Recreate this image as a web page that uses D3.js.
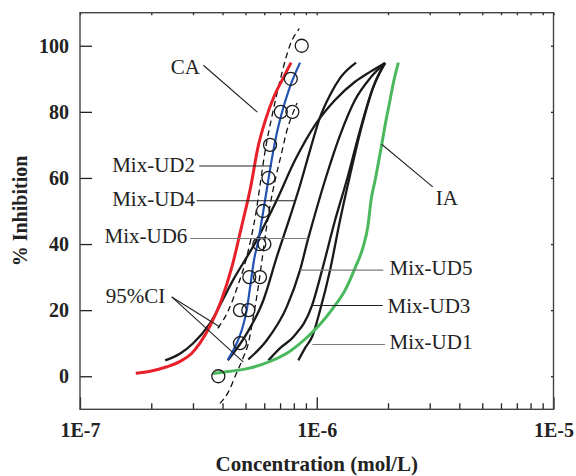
<!DOCTYPE html>
<html><head><meta charset="utf-8">
<script src="https://cdn.jsdelivr.net/npm/d3@7"></script>
<style>body{margin:0;background:#fff}</style>
</head><body>
<svg id="chart" width="576" height="476"></svg>
<script>
// ---------------- data ----------------
const xMajorTicks = [1e-7, 1e-6, 1e-5];
const xTickLabels = ["1E-7", "1E-6", "1E-5"];
const yTicks = [0, 20, 40, 60, 80, 100];

// CA (concentration addition) prediction - red
const caConc = [1.72e-7,1.98e-7,2.31e-7,2.65e-7,2.96e-7,3.21e-7,3.54e-7,3.94e-7,4.39e-7,4.81e-7,5.26e-7,5.65e-7,6.07e-7,6.64e-7,7.14e-7,7.79e-7];
const caInh  = [0.9,1.5,2.8,4.5,6.9,10.0,15.2,22.7,33.3,45.2,57.3,69.4,77.5,85.1,89.6,94.9];

// IA (independent action) prediction - green
const iaConc = [3.65e-7,4.30e-7,5.08e-7,6.35e-7,7.71e-7,9.01e-7,1.033e-6,1.172e-6,1.317e-6,1.451e-6,1.569e-6,1.647e-6,1.696e-6,1.764e-6,1.882e-6,1.962e-6,2.040e-6,2.121e-6,2.212e-6];
const iaInh  = [0.8,1.5,2.3,4.5,7.6,11.5,15.7,20.6,26.0,32.7,39.1,45.7,53.3,59.3,70.2,77.5,83.6,89.7,94.9];

// Mix-UD2 fitted curve - blue
const ud2FitConc = [4.21e-7,4.52e-7,4.82e-7,5.06e-7,5.23e-7,5.43e-7,5.67e-7,5.86e-7,6.05e-7,6.45e-7,6.78e-7,7.11e-7,7.71e-7,8.50e-7];
const ud2FitInh  = [5.0,8.9,13.9,20,27,35.1,41.2,47.2,53.3,65.4,73.5,79.5,87.6,94.9];

// Mix-UD2 observed points - open circles
const ud2ObsConc = [3.84e-7,4.74e-7,4.74e-7,5.14e-7,5.19e-7,5.76e-7,5.72e-7,6.01e-7,5.93e-7,6.25e-7,6.35e-7,7.05e-7,7.89e-7,7.77e-7,8.64e-7];
const ud2ObsInh  = [0,10,20,20,30,30,40,40,50,60,70,80,80,90,100];

// 95% confidence interval of Mix-UD2 - dashed
const ciLeftConc  = [3.82e-7,4.22e-7,4.65e-7,4.98e-7,5.28e-7,5.54e-7,5.76e-7,6.05e-7,6.47e-7,7.07e-7,7.71e-7,8.44e-7];
const ciLeftInh   = [14.5,19.7,27.6,34.2,41.8,49.6,57.8,68.1,78.7,90.8,100.2,105.2];
const ciRightConc = [3.90e-7,4.23e-7,4.56e-7,4.90e-7,5.14e-7,5.38e-7,5.65e-7,5.87e-7,6.11e-7,6.35e-7,6.67e-7,7.07e-7,7.49e-7,7.87e-7,8.26e-7];
const ciRightInh  = [-8.2,-4.8,0.6,5.8,9.9,17.5,26.6,35.1,44.2,51.7,59.3,66.9,74.5,79.0,82.7];

// other mixtures - black fitted curves
const ud6Conc = [2.29e-7,2.65e-7,3.00e-7,3.54e-7,4.43e-7,5.58e-7,6.78e-7,8.10e-7,9.83e-7,1.195e-6,1.451e-6,1.680e-6,1.944e-6];
const ud6Inh  = [4.8,6.9,9.9,16.0,29.1,41.2,53.3,65.4,76.0,83.6,89.1,92.1,94.8];
const ud4Conc = [4.21e-7,5.06e-7,5.95e-7,6.78e-7,7.71e-7,8.50e-7,9.37e-7,1.033e-6,1.138e-6,1.254e-6,1.466e-6];
const ud4Inh  = [4.8,12.9,23.0,36.1,48.2,57.8,68.4,78.4,85.1,90.2,94.9];
const ud5Conc = [5.14e-7,6.15e-7,7.47e-7,8.50e-7,9.21e-7,9.67e-7,1.084e-6,1.254e-6,1.451e-6,1.680e-6,1.944e-6];
const ud5Inh  = [5.1,10.9,21.0,32.1,41.8,47.2,59.3,72.9,83.6,90.2,94.8];
const ud3Conc = [6.25e-7,7.00e-7,7.96e-7,9.53e-7,1.053e-6,1.195e-6,1.339e-6,1.524e-6,1.713e-6,1.944e-6];
const ud3Inh  = [4.8,8.5,11.9,21.2,32.1,47.2,59.3,74.5,86.6,94.8];
const ud1Conc = [8.36e-7,8.92e-7,9.58e-7,1.033e-6,1.138e-6,1.254e-6,1.383e-6,1.554e-6,1.746e-6,1.944e-6];
const ud1Inh  = [4.8,8.5,12.1,20.0,32.1,47.2,60.9,76.0,88.1,94.8];

// annotations: text and anchor in data units
const labelText   = ["CA","IA","Mix-UD2","Mix-UD4","Mix-UD6","95%CI","Mix-UD5","Mix-UD3","Mix-UD1"];
const labelConc   = [2.42e-7,3.18e-6,3.06e-7,3.06e-7,2.84e-7,2.29e-7,2.03e-6,1.99e-6,2.03e-6];
const labelInh    = [91.6,51.8,61.8,51.5,40.3,22.1,30.6,19.1,8.2];
const labelAnchor = ["start","start","end","end","end","end","start","start","start"];
// leader lines [conc1, inh1, conc2, inh2]
const leaderLines = [
  [3.32e-7,94.1,5.61e-7,79.9],
  [1.88e-6,70.2,3.09e-6,57.3],
  [3.19e-7,63.6,6.45e-7,63.6],
  [3.11e-7,53.1,8.10e-7,53.1],
  [2.92e-7,41.7,9.21e-7,41.7],
  [2.44e-7,24.0,3.90e-7,14.9],
  [2.44e-7,24.0,4.90e-7,4.3],
  [8.50e-7,32.1,1.91e-6,32.1],
  [9.53e-7,21.4,1.90e-6,21.4],
  [9.58e-7,9.6,1.94e-6,9.6]
];
const leaderGray = [false,false,false,false,true,false,false,true,false,true];

// ---------------- drawing ----------------
const FONT = "'Liberation Serif','Times New Roman',Times,serif";
const svg = d3.select("#chart");
const x = d3.scaleLog().domain([1e-7, 1e-5]).range([80, 553.5]);
const y = d3.scaleLinear().domain([-10, 110]).range([409.3, 12.7]);
const [x0, x1] = x.range(), [y0, y1] = y.range();

svg.append("defs").append("clipPath").attr("id","clip")
  .append("rect").attr("x",x0).attr("y",y1).attr("width",x1-x0).attr("height",y0-y1);

const minorTicks = [];
for (let d = -7; d < -5; d++) for (let m = 2; m <= 9; m++) minorTicks.push(m * Math.pow(10, d));

function styleAxis(g){
  g.select(".domain").remove();
  g.selectAll(".tick line").attr("stroke","#222").attr("stroke-width",1.3);
  g.selectAll("text").attr("font-family",FONT).attr("font-size",20).attr("font-weight","bold").attr("fill","#222");
}
// bottom axis
svg.append("g").attr("transform",`translate(0,${y0})`)
  .call(d3.axisBottom(x).tickValues(xMajorTicks).tickSize(-12).tickPadding(13.5).tickFormat((d,i)=>xTickLabels[i]))
  .call(styleAxis);
svg.append("g").attr("transform",`translate(0,${y0})`)
  .call(d3.axisBottom(x).tickValues(minorTicks).tickSize(-6).tickFormat(""))
  .call(styleAxis);
// top axis (small ticks)
svg.append("g").attr("transform",`translate(0,${y1})`)
  .call(d3.axisTop(x).tickValues(xMajorTicks.concat(minorTicks)).tickSize(-2.5).tickFormat(""))
  .call(styleAxis);
// left axis
svg.append("g").attr("transform",`translate(${x0},0)`)
  .call(d3.axisLeft(y).tickValues(yTicks).tickSize(-12).tickPadding(11).tickFormat(d3.format("d")))
  .call(styleAxis);
// right axis (small ticks)
svg.append("g").attr("transform",`translate(${x1},0)`)
  .call(d3.axisRight(y).tickValues(yTicks).tickSize(-2.5).tickFormat(""))
  .call(styleAxis);

// frame
svg.append("rect").attr("x",x0).attr("y",y1).attr("width",x1-x0).attr("height",y0-y1)
  .attr("fill","none").attr("stroke","#444").attr("stroke-width",1.4);

// axis titles
svg.append("text").attr("x",(x0+x1)/2).attr("y",471).attr("text-anchor","middle")
  .attr("font-family",FONT).attr("font-size",21).attr("font-weight","bold").attr("fill","#222")
  .text("Concentration (mol/L)");
svg.append("text").attr("transform",`translate(26.5,${(y0+y1)/2}) rotate(-90)`).attr("text-anchor","middle")
  .attr("font-family",FONT).attr("font-size",20).attr("font-weight","bold").attr("fill","#222")
  .text("% Inhibition");

const plot = svg.append("g").attr("clip-path","url(#clip)");
const line = d3.line().x(d=>x(d[0])).y(d=>y(d[1])).curve(d3.curveMonotoneX);
const zip = (a,b) => a.map((v,i)=>[v,b[i]]);

function drawCurve(c, v, color, width, dash){
  const p = plot.append("path").datum(zip(c,v)).attr("d",line)
    .attr("fill","none").attr("stroke",color).attr("stroke-width",width)
    .attr("stroke-linecap","butt").attr("stroke-linejoin","round");
  if (dash) p.attr("stroke-dasharray",dash);
}

// leader lines
leaderLines.forEach((l,i)=>{
  svg.append("line").attr("x1",x(l[0])).attr("y1",y(l[1])).attr("x2",x(l[2])).attr("y2",y(l[3]))
    .attr("stroke",leaderGray[i] ? "#7a7a7a" : "#222").attr("stroke-width",1.1);
});

// black curves
[[ud6Conc,ud6Inh],[ud4Conc,ud4Inh],[ud5Conc,ud5Inh],[ud3Conc,ud3Inh],[ud1Conc,ud1Inh]]
  .forEach(s=>drawCurve(s[0],s[1],"#1a1a1a",2.3));
// CI dashed
drawCurve(ciLeftConc,ciLeftInh,"#111",1.3,"6,4");
drawCurve(ciRightConc,ciRightInh,"#111",1.3,"6,4");
// IA green, CA red
drawCurve(iaConc,iaInh,"#4cb85e",3);
drawCurve(caConc,caInh,"#e8202a",3);
// blue fitted
drawCurve(ud2FitConc,ud2FitInh,"#2253b3",2.2);
// circles
plot.selectAll("circle.obs").data(zip(ud2ObsConc,ud2ObsInh)).enter().append("circle")
  .attr("class","obs").attr("cx",d=>x(d[0])).attr("cy",d=>y(d[1])).attr("r",6.5)
  .attr("fill","none").attr("stroke","#1a1a1a").attr("stroke-width",1.3);

// labels
labelText.forEach((t,i)=>{
  svg.append("text").attr("x",x(labelConc[i])).attr("y",y(labelInh[i]))
    .attr("text-anchor",labelAnchor[i]).attr("font-family",FONT).attr("font-size",21)
    .attr("fill","#222").text(t);
});
</script>
</body></html>
